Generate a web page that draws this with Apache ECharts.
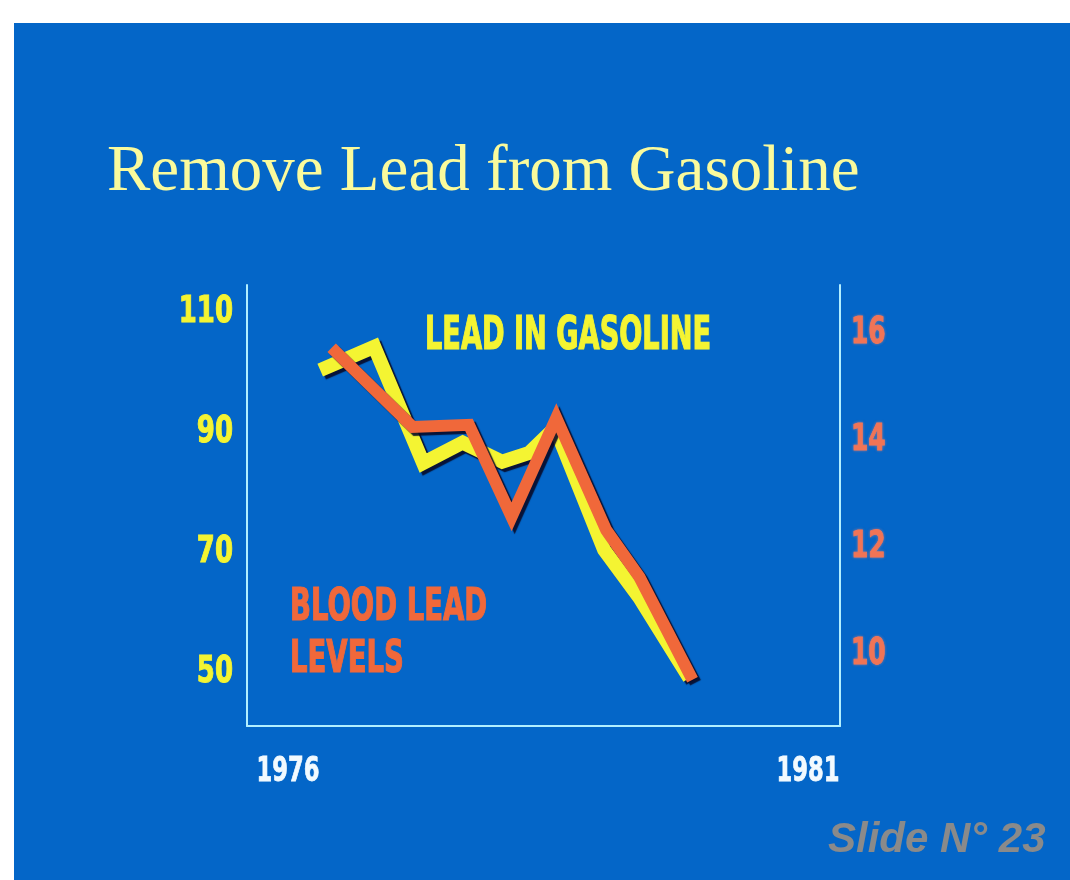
<!DOCTYPE html>
<html>
<head>
<meta charset="utf-8">
<script src="https://cdn.jsdelivr.net/npm/echarts@6/dist/echarts.min.js"></script>
<style>
  html, body { margin: 0; padding: 0; background: #ffffff; width: 1070px; height: 880px; overflow: hidden; }
  #c { position: absolute; left: 14px; top: 23px; width: 1056px; height: 857px; }
</style>
</head>
<body>
<div id="c"></div>
<script>
// ---- data ----
const gasolineYears  = [1976.31, 1976.83, 1977.30, 1977.68, 1978.06, 1978.32, 1978.57, 1979.04, 1979.38, 1979.86];
const gasolineValues = [100.4, 104.3, 84.9, 88.3, 85.1, 86.6, 90.8, 70.4, 62.4, 49.0];
const bloodYears     = [1976.42, 1977.20, 1977.74, 1978.15, 1978.58, 1979.06, 1979.38, 1979.89];
const bloodValues    = [15.73, 14.25, 14.29, 12.57, 14.42, 12.32, 11.44, 9.52];
const xTickLabels     = [1976, 1981];
const leftTickLabels  = [50, 70, 90, 110];
const rightTickLabels = [10, 12, 14, 16];
const titleText = 'Remove Lead from Gasoline';
const gasolineLabel = 'LEAD IN GASOLINE';
const bloodLabelLines = ['BLOOD LEAD', 'LEVELS'];
const slideText = 'Slide N\u00b0 23';

const gasData = gasolineYears.map((x, i) => [x, gasolineValues[i]]);
const bloodData = bloodYears.map((x, i) => [x, bloodValues[i]]);

const NARROW = '"DejaVu Sans Condensed", "DejaVu Sans", sans-serif';
const AXIS_COLOR = '#b2efff';
const YELLOW = '#f4f432';
const ORANGE = '#f0683a';
const SHADOW = 'rgba(8,10,40,0.9)';

function txt(id, text, x, y, opts) {
  return {
    id: id,
    type: 'text',
    x: x, y: y,
    scaleX: opts.scaleX || 1,
    z: 100,
    style: {
      text: text,
      fill: opts.fill,
      stroke: opts.stroke || null,
      lineWidth: opts.lineWidth || 0,
      fontFamily: opts.fontFamily,
      fontSize: opts.fontSize,
      fontWeight: opts.fontWeight || 'normal',
      fontStyle: opts.fontStyle || 'normal',
      align: opts.align || 'left',
      verticalAlign: 'middle',
      textShadowColor: opts.shadow || 'transparent',
      textShadowOffsetX: opts.shadowX || 0,
      textShadowOffsetY: opts.shadowY || 0,
      textShadowBlur: opts.shadowBlur || 0,
      shadowColor: opts.shadow || 'transparent',
      shadowOffsetX: opts.shadowX || 0,
      shadowOffsetY: opts.shadowY || 0,
      shadowBlur: opts.shadowBlur || 0
    }
  };
}

const hiddenLabel = { show: false };
const chart = echarts.init(document.getElementById('c'), null, { renderer: 'canvas' });
chart.setOption({
  backgroundColor: '#0466c8',
  animation: false,
  grid: { left: 233, top: 262, right: 230, bottom: 154, containLabel: false },
  xAxis: {
    type: 'value',
    min: 1975.606,
    max: 1981.308,
    axisLine: { show: true, onZero: false, lineStyle: { color: AXIS_COLOR, width: 2 } },
    axisTick: { show: false },
    splitLine: { show: false },
    axisLabel: hiddenLabel
  },
  yAxis: [
    {
      type: 'value',
      position: 'left',
      min: 41.0,
      max: 114.6,
      axisLine: { show: true, onZero: false, lineStyle: { color: AXIS_COLOR, width: 2 } },
      axisTick: { show: false },
      splitLine: { show: false },
      axisLabel: hiddenLabel
    },
    {
      type: 'value',
      position: 'right',
      min: 8.655,
      max: 16.905,
      axisLine: { show: true, onZero: false, lineStyle: { color: AXIS_COLOR, width: 2 } },
      axisTick: { show: false },
      splitLine: { show: false },
      axisLabel: hiddenLabel
    }
  ],
  series: [
    {
      name: gasolineLabel,
      type: 'line',
      xAxisIndex: 0,
      yAxisIndex: 0,
      data: gasData,
      showSymbol: false,
      symbol: 'none',
      z: 3,
      lineStyle: {
        color: YELLOW, width: 14, join: 'miter', miterLimit: 3, cap: 'butt',
        shadowColor: SHADOW, shadowOffsetX: 3, shadowOffsetY: 3, shadowBlur: 1
      }
    },
    {
      name: bloodLabelLines.join(' '),
      type: 'line',
      xAxisIndex: 0,
      yAxisIndex: 1,
      data: bloodData,
      showSymbol: false,
      symbol: 'none',
      z: 4,
      lineStyle: {
        color: ORANGE, width: 12, join: 'miter', miterLimit: 3, cap: 'butt',
        shadowColor: SHADOW, shadowOffsetX: 3, shadowOffsetY: 3, shadowBlur: 1
      }
    }
  ]
});

// tick labels placed through the chart's own axis scales (condensed via scaleX)
const graphics = [];
const grid = { left: 233, right: 1056 - 230, bottom: 857 - 154 };
xTickLabels.forEach((v, i) => {
  const x = chart.convertToPixel({ xAxisIndex: 0 }, v);
  graphics.push(txt('xl' + i, String(v), x, grid.bottom + 46, {
    fill: '#f2faff', stroke: '#f2faff', lineWidth: 0.8,
    fontFamily: NARROW, fontSize: 34, fontWeight: 'bold', align: 'center', scaleX: 0.74,
    shadow: 'rgba(0,20,60,0.8)', shadowX: 2, shadowY: 2
  }));
});
leftTickLabels.forEach((v, i) => {
  const y = chart.convertToPixel({ yAxisIndex: 0 }, v);
  graphics.push(txt('yl' + i, String(v), grid.left - 14, y, {
    fill: YELLOW, stroke: YELLOW, lineWidth: 1,
    fontFamily: NARROW, fontSize: 38, fontWeight: 'bold', align: 'right', scaleX: 0.76,
    shadow: 'rgba(20,40,40,0.9)', shadowX: 2, shadowY: 2
  }));
});
rightTickLabels.forEach((v, i) => {
  const y = chart.convertToPixel({ yAxisIndex: 1 }, v);
  graphics.push(txt('yr' + i, String(v), grid.right + 11, y, {
    fill: '#f07456', stroke: '#f07456', lineWidth: 0.8,
    fontFamily: NARROW, fontSize: 37, fontWeight: 'bold', align: 'left', scaleX: 0.75,
    shadow: 'rgba(255,140,120,0.5)', shadowBlur: 3
  }));
});

graphics.push(
  txt('title', titleText, 93, 150, {
    fill: '#fafa9c', fontFamily: '"Liberation Serif", "DejaVu Serif", serif', fontSize: 65,
    shadow: 'rgba(10,20,30,0.95)', shadowX: 3, shadowY: 3
  }),
  txt('gasLbl', gasolineLabel, 411, 314, {
    fill: YELLOW, stroke: YELLOW, lineWidth: 1.2,
    fontFamily: NARROW, fontSize: 46, fontWeight: 'bold', scaleX: 0.657,
    shadow: 'rgba(10,15,30,0.95)', shadowX: 3, shadowY: 3
  }),
  txt('bloodLbl1', bloodLabelLines[0], 276, 585, {
    fill: ORANGE, stroke: ORANGE, lineWidth: 1.2,
    fontFamily: NARROW, fontSize: 45, fontWeight: 'bold', scaleX: 0.68,
    shadow: 'rgba(10,15,30,0.95)', shadowX: 3, shadowY: 3
  }),
  txt('bloodLbl2', bloodLabelLines[1], 276, 637, {
    fill: ORANGE, stroke: ORANGE, lineWidth: 1.2,
    fontFamily: NARROW, fontSize: 45, fontWeight: 'bold', scaleX: 0.68,
    shadow: 'rgba(10,15,30,0.95)', shadowX: 3, shadowY: 3
  }),
  txt('slide', slideText, 814, 817, {
    fill: '#8a8a8a', fontFamily: '"Liberation Sans", Arial, sans-serif', fontSize: 42,
    fontWeight: 'bold', fontStyle: 'italic'
  })
);

chart.setOption({ graphic: graphics });
</script>
</body>
</html>
